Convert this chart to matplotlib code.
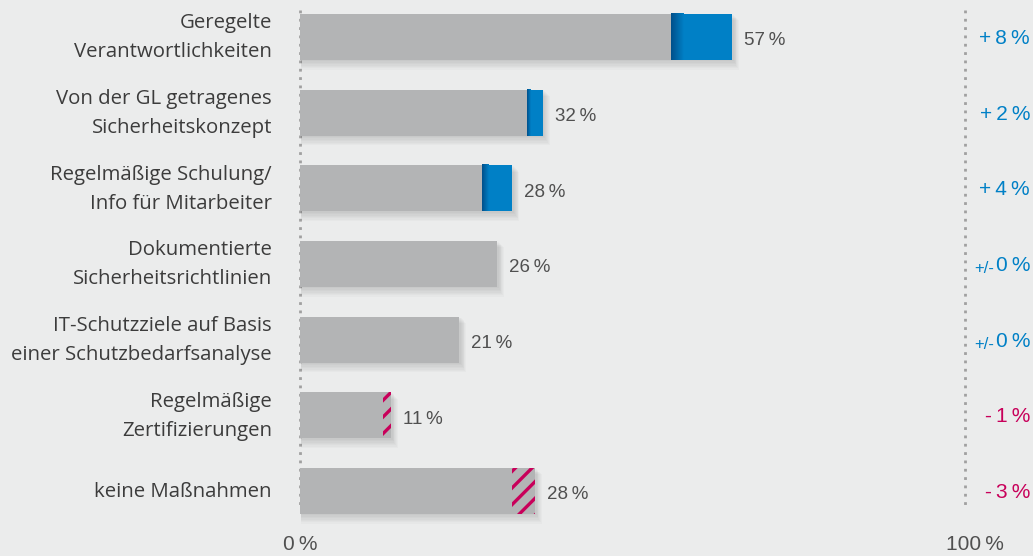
import matplotlib
matplotlib.use("Agg")
import matplotlib.pyplot as plt
import numpy as np
from matplotlib.patches import Rectangle
from matplotlib.colors import LinearSegmentedColormap

# data
labels = ["Geregelte\nVerantwortlichkeiten",
          "Von der GL getragenes\nSicherheitskonzept",
          "Regelmäßige Schulung/\nInfo für Mitarbeiter",
          "Dokumentierte\nSicherheitsrichtlinien",
          "IT-Schutzziele auf Basis\neiner Schutzbedarfsanalyse",
          "Regelmäßige\nZertifizierungen",
          "keine Maßnahmen"]
values = [57, 32, 28, 26, 21, 11, 28]      # current share in %
changes = [8, 2, 4, 0, 0, -1, -3]          # change vs. previous survey

BG = "#ebecec"
GREY = "#b3b4b5"
BLUE = "#0080c6"
DARKBLUE = "#004f8a"
MAGENTA = "#c8005a"
TXT = "#505050"

plt.rcParams["hatch.linewidth"] = 2.4
plt.rcParams["hatch.color"] = MAGENTA

px_per_pct = 7.58
x0_px = 300
axis_end = (965 - x0_px) / px_per_pct      # where the "100 %" guide sits

fig = plt.figure(figsize=(10.33, 5.56), dpi=100, facecolor=BG)
ax = fig.add_axes([0, 0, 1, 1])
ax.set_facecolor(BG)
ax.set_xlim(-x0_px / px_per_pct, (1033 - x0_px) / px_per_pct)
row = 75.67
ax.set_ylim((556 - 37) / row, -37 / row)
ax.axis("off")

h = 0.61
num = ["Liberation Sans", "DejaVu Sans"]
ts = "\u2009"
edge_cm = LinearSegmentedColormap.from_list("edge", [DARKBLUE, BLUE])
rx = (1030 - x0_px) / px_per_pct

for i, (lab, v, c) in enumerate(zip(labels, values, changes)):
    total = v + max(-c, 0)
    base = v - max(c, 0)
    # soft shadow
    for k in range(1, 8):
        ax.add_patch(Rectangle((0.1, i - h / 2 + 0.012 * k), total + 0.12 * k, h + 0.006 * k,
                               color="black", alpha=0.018, lw=0, zorder=1))
    ax.barh(i, base, height=h, color=GREY, zorder=2)
    if c > 0:
        ax.barh(i, c, left=base, height=h, color=BLUE, zorder=2)
        w = min(2.0, c * 0.2)
        grad = np.linspace(0, 1, 50).reshape(1, -1)
        ax.imshow(grad, cmap=edge_cm, aspect="auto", zorder=3, interpolation="bilinear",
                  extent=(base, base + w, i + h / 2, i - h / 2))
    elif c < 0:
        ax.barh(i, -c, left=v, height=h, color=GREY, zorder=2)
        ax.barh(i, -c, left=v, height=h, color="none", edgecolor=MAGENTA,
                hatch="//", lw=0, zorder=3)
    ax.text(total + 1.6, i + 0.05, f"{v}{ts}%", fontsize=13.5, family=num,
            color=TXT, va="center", ha="left")
    ax.text(-3.7, i + 0.01, lab, fontsize=14.7, family="Open Sans", color="#3c3c3c",
            ha="right", va="center", linespacing=1.6)
    # change column
    if c > 0:
        ax.text(rx, i + 0.02, f"+{ts}{c}{ts}%", fontsize=15, family=num, color=BLUE,
                ha="right", va="center")
    elif c < 0:
        ax.text(rx, i + 0.02, f"-{ts}{-c}{ts}%", fontsize=15, family=num, color=MAGENTA,
                ha="right", va="center")
    else:
        ax.text(rx, i + 0.02, f"0{ts}%", fontsize=15, family=num, color=BLUE,
                ha="right", va="center")
        ax.text((994 - x0_px) / px_per_pct, i + 0.06, "+/-", fontsize=12, family=num,
                color=BLUE, ha="right", va="center")

# dotted guides at 0 and the right end
y_top, y_bot = 10 / row - 37 / row, 510 / row - 37 / row
for x in (0, axis_end):
    ax.plot([x, x], [y_top, y_bot], ls=(0, (1, 2)), lw=2, color="#a0a0a0", zorder=0)

ax.text(0, 6.71, f"0{ts}%", fontsize=15, family=num, color=TXT, ha="center", va="center")
ax.text(axis_end + 1.3, 6.71, f"100{ts}%", fontsize=15, family=num, color=TXT,
        ha="center", va="center")

fig.savefig("out.png", dpi=100, facecolor=BG)
